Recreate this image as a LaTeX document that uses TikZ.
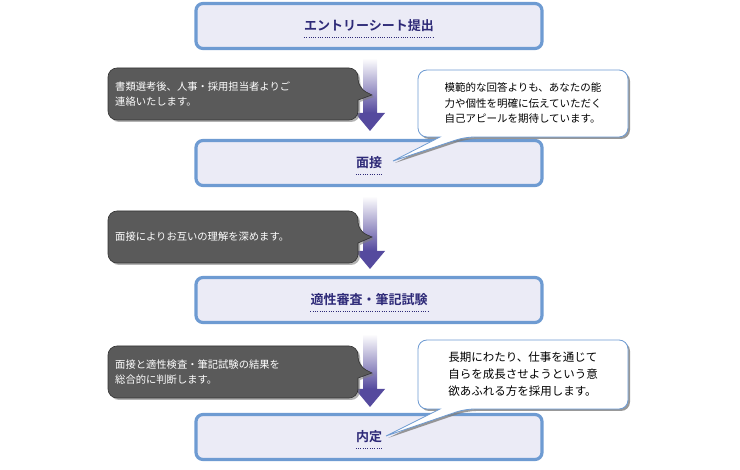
\documentclass[tikz,border=0pt]{standalone}
\usepackage{fontspec}
\setmainfont{Noto Sans CJK JP}[BoldFont={Noto Sans CJK JP Bold}]
\usetikzlibrary{positioning,calc,shadows}
\definecolor{boxfill}{HTML}{EBEBF6}
\definecolor{boxline}{HTML}{6E9BD2}
\definecolor{navy}{HTML}{2E2A78}
\definecolor{arrowpurple}{HTML}{554A9E}
\definecolor{notegray}{HTML}{5A5A5A}
\tikzset{
  flowstep/.style={draw=boxline,line width=3.2pt,fill=boxfill,rounded corners=7pt,
    minimum width=346pt,minimum height=45pt},
  steptext/.style={font=\bfseries\fontsize{13}{15}\selectfont,text=navy,inner sep=0pt},
  note/.style={draw=black!80,line width=.6pt,fill=notegray,rounded corners=9pt,
    drop shadow={shadow xshift=2pt,shadow yshift=-2pt,opacity=.6}},
  bubble/.style={draw=boxline,line width=.8pt,fill=white,rounded corners=9pt,
    drop shadow={shadow xshift=2pt,shadow yshift=-2pt,opacity=.8}},
  notetext/.style={font=\fontsize{10.3}{15}\selectfont,text=white,align=left,anchor=west,inner sep=0pt},
  bubbletext/.style={font=\fontsize{10.5}{15.5}\selectfont,align=left,inner sep=0pt}
}
\newcommand\flowarrow[2]{% top y, bottom y
  \shade[top color=white,bottom color=arrowpurple](363,#1) rectangle (377,#2-18);
  \fill[arrowpurple](355,#2-18)--(385,#2-18)--(370,#2)--cycle;}
\begin{document}
\begin{tikzpicture}[x=1pt,y=-1pt]
\useasboundingbox (0,0) rectangle (740,470);
% steps
\node[flowstep] (entry) at (369,26) {};
\node[flowstep] (mensetsu) at (369,163) {};
\node[flowstep] (tekisei) at (369,300) {};
\node[flowstep] (naitei) at (369,437) {};
\node[steptext] (t1) at (entry) {エントリーシート提出};
\node[steptext] (t2) at (mensetsu) {面接};
\node[steptext] (t3) at (tekisei) {適性審査・筆記試験};
\node[steptext] (t4) at (naitei) {内定};
\foreach \t in {t1,t2,t3,t4}
  \draw[navy,line width=1.3pt,dash pattern=on 1pt off 1.3pt]
    ([yshift=-5pt]\t.south west)--([yshift=-5pt]\t.south east);
% arrows
\flowarrow{58}{131}
\flowarrow{196}{269}
\flowarrow{334}{407}
% left notes
\draw[note](108,68)--(358,68)--(358,88)[sharp corners]--(372,95)--(358,100)[rounded corners=9pt]--(358,120)--(108,120)--cycle;
\node[notetext] (n1) at (115,94) {書類選考後、人事・採用担当者よりご\\連絡いたします。};
\draw[note](108,211)--(358,211)--(358,231)[sharp corners]--(372,237)--(358,243)[rounded corners=9pt]--(358,263)--(108,263)--cycle;
\node[notetext] (n2) at (115,237) {面接によりお互いの理解を深めます。};
\draw[note](108,346)--(358,346)--(358,366)[sharp corners]--(372,373)--(358,378)[rounded corners=9pt]--(358,398)--(108,398)--cycle;
\node[notetext] (n3) at (115,372) {面接と適性検査・筆記試験の結果を\\総合的に判断します。};
% right bubbles
\draw[bubble](418,70)--(628,70)--(628,137)--(465,137)[sharp corners]--(393,161)--(440,137)[rounded corners=9pt]--(418,137)--cycle;
\node[bubbletext] (b1) at (523,103) {模範的な回答よりも、あなたの能\\力や個性を明確に伝えていただく\\自己アピールを期待しています。};
\draw[bubble](418,340)--(628,340)--(628,409)--(465,409)[sharp corners]--(386,436)--(440,409)[rounded corners=9pt]--(418,409)--cycle;
\node[bubbletext,font=\fontsize{11.5}{17}\selectfont] (b2) at (523,374) {長期にわたり、仕事を通じて\\自らを成長させようという意\\欲あふれる方を採用します。};
\end{tikzpicture}
\end{document}
